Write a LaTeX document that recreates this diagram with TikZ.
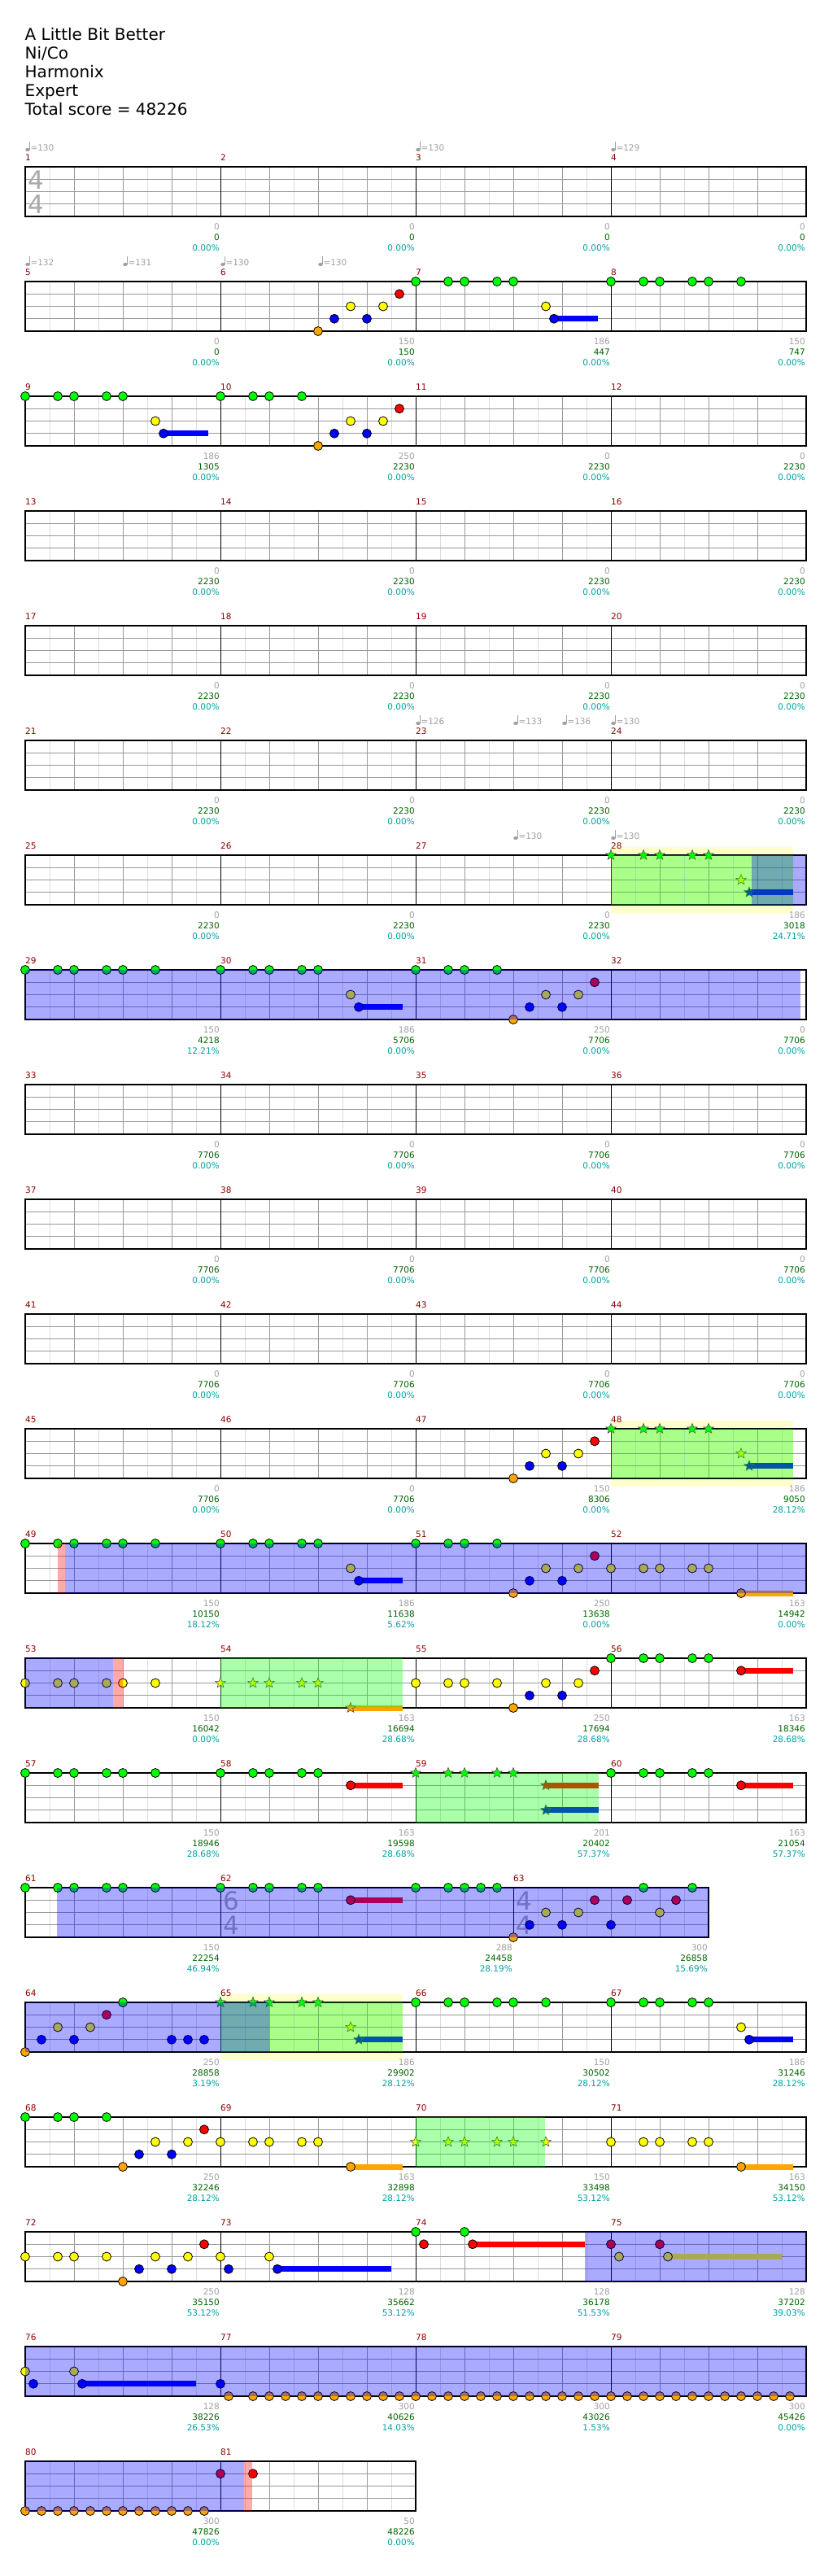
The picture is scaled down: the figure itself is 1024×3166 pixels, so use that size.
\documentclass[tikz,border=0pt]{standalone}
\usepackage{fontspec}
\setmainfont{DejaVu Sans}
\usetikzlibrary{shapes.geometric}
\definecolor{ngreen}{HTML}{00FF00}
\definecolor{nred}{HTML}{FF0000}
\definecolor{nyellow}{HTML}{FFFF00}
\definecolor{nblue}{HTML}{0000FF}
\definecolor{norange}{HTML}{FFA500}
\definecolor{gridgray}{HTML}{999999}
\definecolor{halfgray}{HTML}{DDDDDD}
\definecolor{numred}{HTML}{8B0000}
\definecolor{labgray}{HTML}{A0A0A0}
\definecolor{totgreen}{HTML}{006400}
\definecolor{pctteal}{HTML}{00A0A0}
\definecolor{solobg}{HTML}{FFFFCC}
\definecolor{sigfaint}{HTML}{AAAAAA}

\tikzset{
  halfline/.style={draw=halfgray, line width=1pt},
  beatline/.style={draw=gridgray, line width=1pt},
  laneline/.style={draw=gridgray, line width=1pt},
  barline/.style={draw=black, line width=1pt},
  staffbox/.style={draw=black, line width=1.3pt},
  smalltext/.style={font=\fontsize{10.5}{12}\selectfont, inner sep=0pt},
  mnum/.style={smalltext, text=numred, anchor=base west},
  scorelab/.style={smalltext, text=labgray, anchor=base east},
  totlab/.style={smalltext, text=totgreen, anchor=base east},
  pctlab/.style={smalltext, text=pctteal, anchor=base east},
  tempolab/.style={smalltext, text=labgray, anchor=base west},
  headline/.style={font=\fontsize{20}{24}\selectfont, inner sep=0pt, anchor=base west},
  tsdigit/.style={font=\fontsize{31}{31}\selectfont, text=sigfaint, inner sep=0pt},
  notedot/.style={draw=black, line width=0.8pt},
  starnote/.style={star, star points=5, star point ratio=2.3, minimum size=13pt,
    inner sep=0pt, draw=black!70, line width=0.6pt},
  odrive/.style={fill=blue, fill opacity=0.333},
  phrase/.style={fill=green, fill opacity=0.333},
  flash/.style={fill=red, fill opacity=0.333},
}

% row top: 205 + 141 per row
\newcommand{\setrow}[1]{\def\R{#1}\pgfmathsetmacro{\T}{205+141*(#1-1)}}
% x0, beats, number, score, total, percent
\newcommand{\meas}[6]{%
  \pgfmathtruncatemacro{\nh}{2*#2-1}%
  \pgfmathtruncatemacro{\nb}{#2-1}%
  \foreach \k in {1,...,\nh} {\draw[halfline] (#1+30*\k,\T) -- (#1+30*\k,\T+61);}%
  \foreach \k in {1,...,\nb} {\draw[beatline] (#1+60*\k,\T) -- (#1+60*\k,\T+61);}%
  \foreach \l in {1,2,3} {\draw[laneline] (#1,\T+15.25*\l) -- (#1+60*#2,\T+15.25*\l);}%
  \draw[barline] (#1,\T) -- (#1,\T+61);%
  \node[mnum] (m#3) at (#1,\T-7.7) {#3};%
  \node[scorelab] (sc#3) at (#1+60*#2-1,\T+77) {#4};%
  \node[totlab] (tot#3) at (#1+60*#2-1,\T+90.3) {#5};%
  \node[pctlab] (pct#3) at (#1+60*#2-1,\T+103.3) {#6};%
}
\newcommand{\staff}[1]{\draw[staffbox] (31,\T) rectangle (#1,\T+61);}
\newcommand{\nt}[3]{\filldraw[notedot, fill=#3] (#1,\T+15.25*#2) circle (5.5pt);}
\newcommand{\notes}[3]{\foreach \nx in {#1} {\nt{\nx}{#2}{#3}}}
\newcommand{\stn}[3]{\node[starnote, fill=#3] (st\R-#1-#2) at (#1,\T+15.25*#2) {};}
\newcommand{\stars}[3]{\foreach \nx in {#1} {\stn{\nx}{#2}{#3}}}
\newcommand{\sus}[4]{\fill[#4] (#1,\T+15.25*#2-3.5) rectangle (#3,\T+15.25*#2+3.5);}
\newcommand{\run}[1]{\nt{#1}{4}{norange}\nt{#1+20}{3}{nblue}\nt{#1+40}{2}{nyellow}%
  \nt{#1+60}{3}{nblue}\nt{#1+80}{2}{nyellow}\nt{#1+100}{1}{nred}}
\newcommand{\tempo}[2]{%
  \fill[labgray] (#1+3,\T-21) ellipse (2.8pt and 2.1pt);
  \draw[labgray, line width=0.9pt] (#1+5.4,\T-21) -- (#1+5.4,\T-31);
  \node[tempolab] (bpm\R-#1) at (#1+6.3,\T-20) {=#2};}
\newcommand{\tsig}[3]{%
  \node[tsdigit] (ts\R-#1u) at (#1+13.5,\T+16) {#2};
  \node[tsdigit] (ts\R-#1l) at (#1+13.5,\T+46) {#3};}
\newcommand{\solo}[2]{\fill[solobg] (#1,\T-10) rectangle (#2,\T+71);}
\newcommand{\ovl}[3]{\fill[#1] (#2,\T) rectangle (#3,\T+61);}
\newcommand{\blankrow}[3]{%
  \begin{scope}\setrow{#1}
  \foreach \j in {0,1,2,3} {\pgfmathtruncatemacro{\mn}{#2+\j}\meas{31+240*\j}{4}{\mn}{0}{#3}{0.00\%}}
  \staff{991}
  \end{scope}}

\begin{document}
\begin{tikzpicture}[x=1pt, y=-1pt]
\useasboundingbox (0,0) rectangle (1024,3166);
\fill[white] (0,0) rectangle (1024,3166);

% heading
\node[headline] (song) at (30.5,49.3) {A Little Bit Better};
\node[headline] (artist) at (30.5,72.3) {Ni/Co};
\node[headline] (charter) at (30.5,95.3) {Harmonix};
\node[headline] (level) at (30.5,118.3) {Expert};
\node[headline] (total) at (30.5,141.3) {Total score = 48226};

% row 1
\begin{scope}
\setrow{1}
\meas{31}{4}{1}{0}{0}{0.00\%}
\meas{271}{4}{2}{0}{0}{0.00\%}
\meas{511}{4}{3}{0}{0}{0.00\%}
\meas{751}{4}{4}{0}{0}{0.00\%}
\staff{991}
\tempo{31}{130}\tempo{511}{130}\tempo{751}{129}
\tsig{31}{4}{4}
\end{scope}

% row 2
\begin{scope}
\setrow{2}
\meas{31}{4}{5}{0}{0}{0.00\%}
\meas{271}{4}{6}{150}{150}{0.00\%}
\meas{511}{4}{7}{186}{447}{0.00\%}
\meas{751}{4}{8}{150}{747}{0.00\%}
\staff{991}
\tempo{31}{132}\tempo{151}{131}\tempo{271}{130}\tempo{391}{130}
\sus{681}{3}{735}{nblue}
\run{391}
\notes{511,551,571,611,631}{0}{ngreen}\nt{671}{2}{nyellow}\nt{681}{3}{nblue}
\notes{751,791,811,851,871,911}{0}{ngreen}
\end{scope}

% row 3
\begin{scope}
\setrow{3}
\meas{31}{4}{9}{186}{1305}{0.00\%}
\meas{271}{4}{10}{250}{2230}{0.00\%}
\meas{511}{4}{11}{0}{2230}{0.00\%}
\meas{751}{4}{12}{0}{2230}{0.00\%}
\staff{991}
\sus{201}{3}{256}{nblue}
\notes{31,71,91,131,151}{0}{ngreen}\nt{191}{2}{nyellow}\nt{201}{3}{nblue}
\notes{271,311,331,371}{0}{ngreen}\run{391}
\end{scope}

\blankrow{4}{13}{2230}
\blankrow{5}{17}{2230}

% row 6
\begin{scope}
\setrow{6}
\meas{31}{4}{21}{0}{2230}{0.00\%}
\meas{271}{4}{22}{0}{2230}{0.00\%}
\meas{511}{4}{23}{0}{2230}{0.00\%}
\meas{751}{4}{24}{0}{2230}{0.00\%}
\staff{991}
\tempo{511}{126}\tempo{631}{133}\tempo{691}{136}\tempo{751}{130}
\end{scope}

% row 7
\begin{scope}
\setrow{7}
\solo{751}{975}
\meas{31}{4}{25}{0}{2230}{0.00\%}
\meas{271}{4}{26}{0}{2230}{0.00\%}
\meas{511}{4}{27}{0}{2230}{0.00\%}
\meas{751}{4}{28}{186}{3018}{24.71\%}
\staff{991}
\tempo{631}{130}\tempo{751}{130}
\sus{921}{3}{975}{nblue}
\stars{751,791,811,851,871}{0}{ngreen}\stn{911}{2}{nyellow}\stn{921}{3}{nblue}
\ovl{phrase}{751}{975}
\ovl{odrive}{924}{991}
\end{scope}

% row 8
\begin{scope}
\setrow{8}
\meas{31}{4}{29}{150}{4218}{12.21\%}
\meas{271}{4}{30}{186}{5706}{0.00\%}
\meas{511}{4}{31}{250}{7706}{0.00\%}
\meas{751}{4}{32}{0}{7706}{0.00\%}
\staff{991}
\sus{441}{3}{495}{nblue}
\notes{31,71,91,131,151,191}{0}{ngreen}
\notes{271,311,331,371,391}{0}{ngreen}\nt{431}{2}{nyellow}\nt{441}{3}{nblue}
\notes{511,551,571,611}{0}{ngreen}\run{631}
\ovl{odrive}{31}{984}
\end{scope}

\blankrow{9}{33}{7706}
\blankrow{10}{37}{7706}
\blankrow{11}{41}{7706}

% row 12
\begin{scope}
\setrow{12}
\solo{751}{975}
\meas{31}{4}{45}{0}{7706}{0.00\%}
\meas{271}{4}{46}{0}{7706}{0.00\%}
\meas{511}{4}{47}{150}{8306}{0.00\%}
\meas{751}{4}{48}{186}{9050}{28.12\%}
\staff{991}
\sus{921}{3}{975}{nblue}
\run{631}
\stars{751,791,811,851,871}{0}{ngreen}\stn{911}{2}{nyellow}\stn{921}{3}{nblue}
\ovl{phrase}{751}{975}
\end{scope}

% row 13
\begin{scope}
\setrow{13}
\meas{31}{4}{49}{150}{10150}{18.12\%}
\meas{271}{4}{50}{186}{11638}{5.62\%}
\meas{511}{4}{51}{250}{13638}{0.00\%}
\meas{751}{4}{52}{163}{14942}{0.00\%}
\staff{991}
\sus{441}{3}{495}{nblue}\sus{911}{4}{975}{norange}
\notes{31,71,91,131,151,191}{0}{ngreen}
\notes{271,311,331,371,391}{0}{ngreen}\nt{431}{2}{nyellow}\nt{441}{3}{nblue}
\notes{511,551,571,611}{0}{ngreen}\run{631}
\notes{751,791,811,851,871}{2}{nyellow}\nt{911}{4}{norange}
\ovl{flash}{71}{80}
\ovl{odrive}{80}{991}
\end{scope}

% row 14
\begin{scope}
\setrow{14}
\meas{31}{4}{53}{150}{16042}{0.00\%}
\meas{271}{4}{54}{163}{16694}{28.68\%}
\meas{511}{4}{55}{250}{17694}{28.68\%}
\meas{751}{4}{56}{163}{18346}{28.68\%}
\staff{991}
\sus{431}{4}{495}{norange}\sus{911}{1}{975}{nred}
\notes{31,71,91,131,151,191}{2}{nyellow}
\stars{271,311,331,371,391}{2}{nyellow}\stn{431}{4}{norange}
\notes{511,551,571,611}{2}{nyellow}\run{631}
\notes{751,791,811,851,871}{0}{ngreen}\nt{911}{1}{nred}
\ovl{odrive}{31}{139}
\ovl{flash}{139}{151}
\ovl{phrase}{271}{495}
\end{scope}

% row 15
\begin{scope}
\setrow{15}
\meas{31}{4}{57}{150}{18946}{28.68\%}
\meas{271}{4}{58}{163}{19598}{28.68\%}
\meas{511}{4}{59}{201}{20402}{57.37\%}
\meas{751}{4}{60}{163}{21054}{57.37\%}
\staff{991}
\sus{431}{1}{495}{nred}\sus{671}{1}{736}{nred}\sus{671}{3}{736}{nblue}\sus{911}{1}{975}{nred}
\notes{31,71,91,131,151,191}{0}{ngreen}
\notes{271,311,331,371,391}{0}{ngreen}\nt{431}{1}{nred}
\stars{511,551,571,611,631}{0}{ngreen}\stn{671}{1}{nred}\stn{671}{3}{nblue}
\notes{751,791,811,851,871}{0}{ngreen}\nt{911}{1}{nred}
\ovl{phrase}{511}{736}
\end{scope}

% row 16
\begin{scope}
\setrow{16}
\meas{31}{4}{61}{150}{22254}{46.94\%}
\meas{271}{6}{62}{288}{24458}{28.19\%}
\meas{631}{4}{63}{300}{26858}{15.69\%}
\staff{871}
\tsig{271}{6}{4}\tsig{631}{4}{4}
\sus{431}{1}{495}{nred}
\notes{31,71,91,131,151,191}{0}{ngreen}
\notes{271,311,331,371,391}{0}{ngreen}\nt{431}{1}{nred}
\notes{511,551,571,591,611}{0}{ngreen}
\run{631}
\nt{751}{3}{nblue}\nt{771}{1}{nred}\nt{791}{0}{ngreen}
\nt{811}{2}{nyellow}\nt{831}{1}{nred}\nt{851}{0}{ngreen}
\ovl{odrive}{70}{871}
\end{scope}

% row 17
\begin{scope}
\setrow{17}
\solo{271}{495}
\meas{31}{4}{64}{250}{28858}{3.19\%}
\meas{271}{4}{65}{186}{29902}{28.12\%}
\meas{511}{4}{66}{150}{30502}{28.12\%}
\meas{751}{4}{67}{186}{31246}{28.12\%}
\staff{991}
\sus{441}{3}{495}{nblue}\sus{921}{3}{975}{nblue}
\run{31}\nt{151}{0}{ngreen}\notes{211,231,251}{3}{nblue}
\stars{271,311,331,371,391}{0}{ngreen}\stn{431}{2}{nyellow}\stn{441}{3}{nblue}
\notes{511,551,571,611,631,671}{0}{ngreen}
\notes{751,791,811,851,871}{0}{ngreen}\nt{911}{2}{nyellow}\nt{921}{3}{nblue}
\ovl{phrase}{271}{495}
\ovl{odrive}{31}{331}
\end{scope}

% row 18
\begin{scope}
\setrow{18}
\meas{31}{4}{68}{250}{32246}{28.12\%}
\meas{271}{4}{69}{163}{32898}{28.12\%}
\meas{511}{4}{70}{150}{33498}{53.12\%}
\meas{751}{4}{71}{163}{34150}{53.12\%}
\staff{991}
\sus{431}{4}{495}{norange}\sus{911}{4}{975}{norange}
\notes{31,71,91,131}{0}{ngreen}\run{151}
\notes{271,311,331,371,391}{2}{nyellow}\nt{431}{4}{norange}
\stars{511,551,571,611,631,671}{2}{nyellow}
\notes{751,791,811,851,871}{2}{nyellow}\nt{911}{4}{norange}
\ovl{phrase}{511}{670}
\end{scope}

% row 19
\begin{scope}
\setrow{19}
\meas{31}{4}{72}{250}{35150}{53.12\%}
\meas{271}{4}{73}{128}{35662}{53.12\%}
\meas{511}{4}{74}{128}{36178}{51.53\%}
\meas{751}{4}{75}{128}{37202}{39.03\%}
\staff{991}
\sus{341}{3}{481}{nblue}\sus{581}{1}{719}{nred}\sus{821}{2}{961}{nyellow}
\notes{31,71,91,131}{2}{nyellow}\run{151}
\notes{271,331}{2}{nyellow}\notes{281,341}{3}{nblue}
\notes{511,571}{0}{ngreen}\notes{521,581}{1}{nred}
\notes{751,811}{1}{nred}\notes{761,821}{2}{nyellow}
\ovl{odrive}{719}{991}
\end{scope}

% row 20
\begin{scope}
\setrow{20}
\meas{31}{4}{76}{128}{38226}{26.53\%}
\meas{271}{4}{77}{300}{40626}{14.03\%}
\meas{511}{4}{78}{300}{43026}{1.53\%}
\meas{751}{4}{79}{300}{45426}{0.00\%}
\staff{991}
\sus{101}{3}{241}{nblue}
\notes{31,91}{2}{nyellow}\notes{41,101,271}{3}{nblue}
\nt{281}{4}{norange}\notes{311,331,...,971}{4}{norange}
\ovl{odrive}{31}{991}
\end{scope}

% row 21
\begin{scope}
\setrow{21}
\meas{31}{4}{80}{300}{47826}{0.00\%}
\meas{271}{4}{81}{50}{48226}{0.00\%}
\staff{511}
\notes{31,51,...,251}{4}{norange}
\notes{271,311}{1}{nred}
\ovl{odrive}{31}{300}
\ovl{flash}{300}{310}
\end{scope}
\end{tikzpicture}
\end{document}
